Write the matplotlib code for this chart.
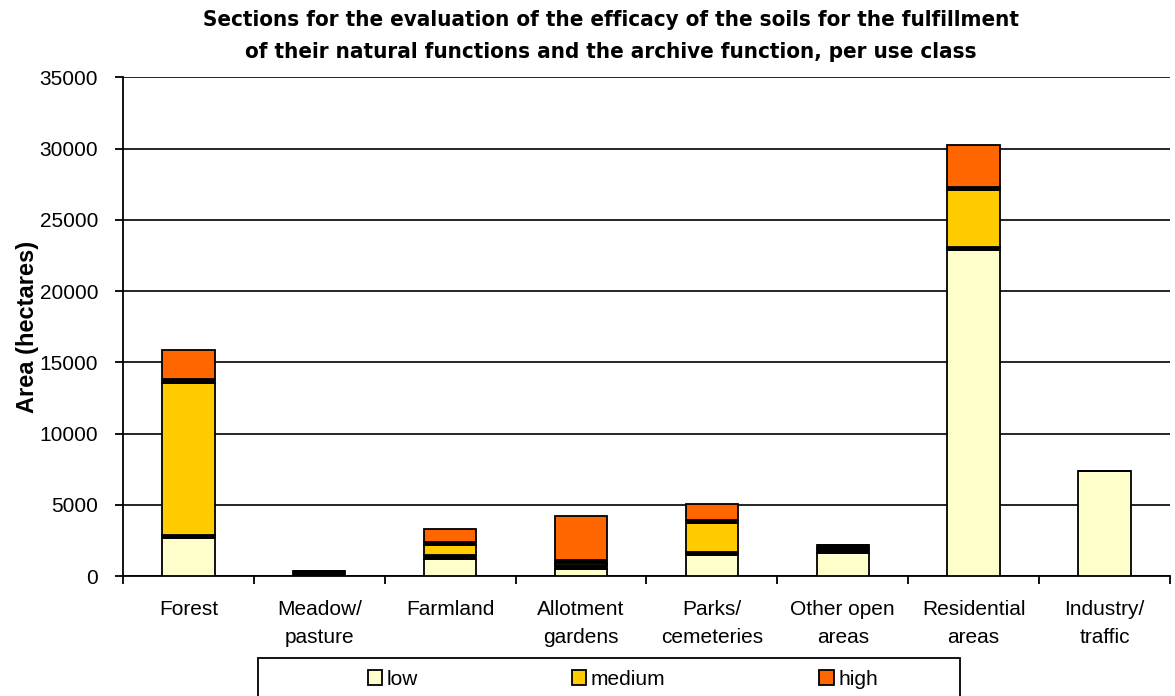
import numpy as np
import matplotlib.pyplot as plt
from matplotlib.patches import Rectangle

# Use classes and area per evaluation level (hectares)
categories = ["Forest", "Meadow/\npasture", "Farmland", "Allotment\ngardens",
              "Parks/\ncemeteries", "Other open\nareas", "Residential\nareas", "Industry/\ntraffic"]
low = [2650, 0, 1215, 490, 1470, 1590, 22870, 7360]
band_low_mid = [250, 350, 240, 260, 230, 280, 230, 0]
medium = [10660, 0, 720, 185, 1990, 0, 3980, 0]
band_mid_high = [280, 0, 230, 190, 230, 280, 230, 0]
high = [2030, 0, 910, 3090, 1100, 0, 2920, 0]

plt.rcParams['font.family'] = ['Liberation Sans', 'DejaVu Sans']

fig = plt.figure(figsize=(11.75, 6.96), dpi=100)
ax = fig.add_axes([0.1047, 0.1724, 0.8910, 0.7166])

x = np.arange(len(categories))
w = 0.40
series = [
    (low, "#FFFFCC", "low"),
    (band_low_mid, "black", None),
    (medium, "#FFCC00", "medium"),
    (band_mid_high, "black", None),
    (high, "#FF6600", "high"),
]
bottom = np.zeros(len(categories))
handles = []
for vals, col, lab in series:
    vals = np.array(vals, dtype=float)
    b = ax.bar(x, vals, w, bottom=bottom, color=col, edgecolor="black",
               linewidth=1.3, zorder=3)
    if lab:
        handles.append((b, lab))
    bottom += vals

ax.set_xlim(-0.5, 7.5)
ax.set_ylim(0, 35000)
ax.set_yticks(np.arange(0, 35001, 5000))
ax.yaxis.grid(True, color="black", linewidth=1.2, zorder=0)
ax.set_axisbelow(True)
for s in ["top", "right"]:
    ax.spines[s].set_visible(False)
for s in ["left", "bottom"]:
    ax.spines[s].set_linewidth(1.3)

ax.set_xticks(x)
ax.set_xticklabels(categories, fontsize=15, linespacing=1.6, va="top")
ax.tick_params(axis="x", which="major", length=0, pad=17)
ax.set_xticks(np.arange(-0.5, 8, 1), minor=True)
ax.tick_params(axis="x", which="minor", length=6, width=1.3, direction="out")
ax.tick_params(axis="y", labelsize=15, length=6, width=1.3, direction="out", pad=12)
ax.set_ylabel("Area (hectares)", fontsize=17, fontweight="bold", labelpad=0)

fig.text(0.52, 0.985, "Sections for the evaluation of the efficacy of the soils for the fulfillment\n"
         "of their natural functions and the archive function, per use class",
         ha="center", va="top", fontsize=16, fontweight="bold", fontstretch="condensed",
         linespacing=1.75, family="DejaVu Sans")

# legend frame runs off the bottom edge
fig.patches.append(Rectangle((258 / 1175, -0.05), (960 - 258) / 1175, 0.05 + (696 - 658) / 696,
                             transform=fig.transFigure, fill=False, edgecolor="black",
                             linewidth=1.3))
leg = fig.legend([h for h, _ in handles], [l for _, l in handles], ncol=3,
                 loc="center", bbox_to_anchor=(0.53, 0.024), frameon=False, fontsize=15,
                 handlelength=0.7, handleheight=0.7, handletextpad=0.2, columnspacing=7.4)

fig.savefig("out.png", dpi=100)
